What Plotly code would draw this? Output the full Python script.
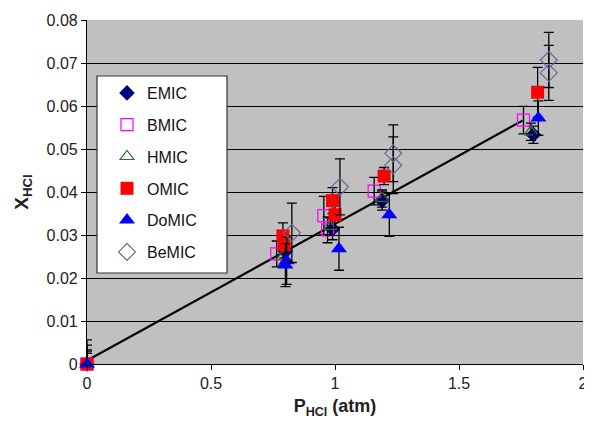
import plotly.graph_objects as go

# ---- data ----
emic_x = [0.0, 0.80, 0.99, 1.19, 1.80]
emic_y = [0.0, 0.0262, 0.0314, 0.0380, 0.0533]
emic_e = [0.0033, 0.0025, 0.0025, 0.0022, 0.0020]

bmic_x = [0.0, 0.765, 0.955, 0.97, 1.158, 1.76]
bmic_y = [0.0, 0.0256, 0.0345, 0.0312, 0.0402, 0.0567]
bmic_e = [0.0044, 0.0030, 0.0045, 0.0030, 0.0032, 0.0032]

hmic_x = [0.0, 0.79, 0.98, 1.19, 1.79]
hmic_y = [0.0, 0.0250, 0.0320, 0.0385, 0.0540]
hmic_e = [0.0030, 0.0020, 0.0020, 0.0020, 0.0020]

omic_x = [0.0, 0.79, 0.795, 0.99, 1.0, 1.198, 1.817]
omic_y = [0.0, 0.0298, 0.0277, 0.0380, 0.0347, 0.0437, 0.0632]
omic_e = [0.0056, 0.0030, 0.0030, 0.0030, 0.0030, 0.0020, 0.0058]

domic_x = [0.0, 0.805, 0.80, 1.016, 1.219, 1.82]
domic_y = [0.0, 0.0240, 0.0230, 0.0268, 0.0347, 0.0572]
domic_e = [0.0025, 0.0055, 0.0050, 0.0050, 0.0050, 0.0040]

bemic_x = [0.826, 1.02, 1.235, 1.235, 1.862, 1.862]
bemic_y = [0.0305, 0.0412, 0.0490, 0.0462, 0.0707, 0.0677]
bemic_e = [0.0069, 0.0065, 0.0066, 0.0066, 0.0064, 0.0064]

trend_x = [0.0, 1.756]
trend_y = [0.0008, 0.0566]

x_ticks = [0, 0.5, 1, 1.5, 2]
x_ticklabels = ["0", "0.5", "1", "1.5", "2"]
y_ticks = [0, 0.01, 0.02, 0.03, 0.04, 0.05, 0.06, 0.07, 0.08]
y_ticklabels = ["0", "0.01", "0.02", "0.03", "0.04", "0.05", "0.06", "0.07", "0.08"]

series = [
    ("EMIC", emic_x, emic_y, emic_e, dict(symbol="diamond", size=12, color="#000080")),
    ("BMIC", bmic_x, bmic_y, bmic_e, dict(symbol="square-open", size=12, color="#FF00FF", line=dict(width=1.2))),
    ("HMIC", hmic_x, hmic_y, hmic_e, dict(symbol="triangle-up-open", size=12, color="#336633", line=dict(width=1.2))),
    ("OMIC", omic_x, omic_y, omic_e, dict(symbol="square", size=13, color="#FF0000")),
    ("DoMIC", domic_x, domic_y, domic_e, dict(symbol="triangle-up", size=14, color="#0000FF")),
    ("BeMIC", bemic_x, bemic_y, bemic_e, dict(symbol="diamond-open", size=13, color="#666699", line=dict(width=1.2))),
]

fig = go.Figure()

fig.add_trace(go.Scatter(
    x=trend_x, y=trend_y, mode="lines", line=dict(color="black", width=2.2),
    showlegend=False, hoverinfo="skip", cliponaxis=False))

for name, xs, ys, es, mk in series:
    fig.add_trace(go.Scatter(
        x=xs, y=ys, mode="markers", name=name, marker=mk,
        error_y=dict(type="data", array=es, visible=True, color="black",
                     thickness=1.3, width=5),
        cliponaxis=False, legendgroup=name))

# plot-area pixel box in the reference picture, used to place the legend box
px0, px1 = 87, 583
py0, py1 = 364, 20
def fx(p):
    return (p - px0) / (px1 - px0)
def fy(p):
    return (py0 - p) / (py0 - py1)

fig.add_shape(type="rect", xref="paper", yref="paper",
              x0=fx(97), x1=fx(227), y0=fy(273), y1=fy(76),
              fillcolor="white", line=dict(color="#333333", width=1.2), layer="above")

# page body adds an 8px offset, so the figure is 8px smaller and margins shifted
fig.update_layout(
    width=584, height=416,
    margin=dict(l=79, r=9, t=12, b=60, autoexpand=False),
    paper_bgcolor="white",
    plot_bgcolor="#c0c0c0",
    font=dict(family="Liberation Sans, Arial, sans-serif", size=16, color="#222222"),
    showlegend=True,
    legend=dict(x=fx(107), y=fy(76), xanchor="left", yanchor="top",
                bgcolor="rgba(0,0,0,0)", borderwidth=0,
                font=dict(size=16, color="#111111"),
                tracegroupgap=8, itemwidth=30,
                traceorder="grouped"),
    xaxis=dict(range=[0, 2], tickvals=x_ticks, ticktext=x_ticklabels,
               showgrid=False, zeroline=False, showline=True, linecolor="black",
               linewidth=1.2, ticks="outside", ticklen=5, tickcolor="black",
               automargin=False,
               title=dict(text="<b>P<sub>HCl</sub> (atm)</b>", font=dict(size=18, color="#222222"),
                          standoff=8)),
    yaxis=dict(range=[0, 0.08], tickvals=y_ticks, ticktext=y_ticklabels,
               showgrid=True, gridcolor="black", gridwidth=1.2, zeroline=False,
               showline=True, linecolor="black", linewidth=1.2,
               ticks="outside", ticklen=5, tickcolor="black",
               automargin=False,
               title=dict(text="<b>X<sub>HCl</sub></b>", font=dict(size=19, color="#222222"),
                          standoff=12)),
)

fig.write_html("out.html")
